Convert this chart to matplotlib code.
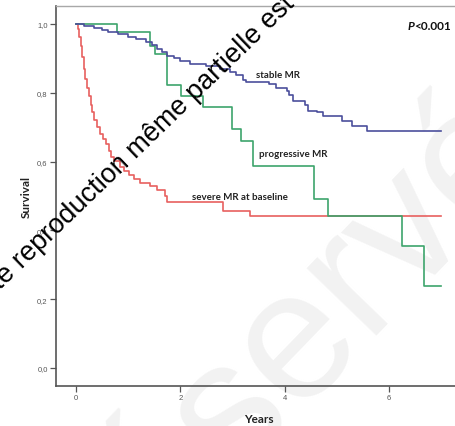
import matplotlib
matplotlib.use('Agg')

import matplotlib.pyplot as plt

# Kaplan-Meier steps (time in years, survival)
stable_t = [0, 0.15, 0.35, 0.5, 0.62, 0.8, 1.0, 1.15, 1.35, 1.45, 1.55, 1.65, 1.74, 1.88,
            2.0, 2.18, 2.5, 2.75, 2.95, 3.07, 3.2, 3.26, 3.70, 3.83, 4.05, 4.09, 4.15,
            4.39, 4.44, 4.61, 4.73, 5.09, 5.28, 5.58]
stable_s = [1.0, 0.995, 0.988, 0.982, 0.976, 0.970, 0.961, 0.955, 0.947, 0.938, 0.927, 0.917,
            0.908, 0.900, 0.893, 0.884, 0.877, 0.868, 0.860, 0.852, 0.838, 0.830, 0.824, 0.815,
            0.806, 0.792, 0.777, 0.763, 0.748, 0.743, 0.733, 0.719, 0.704, 0.690]

prog_t = [0, 0.78, 1.42, 1.51, 1.74, 2.02, 2.44, 2.98, 3.16, 3.40, 4.56, 4.83, 6.24, 6.66]
prog_s = [1.0, 0.975, 0.935, 0.913, 0.821, 0.791, 0.758, 0.695, 0.661, 0.588, 0.490, 0.441,
          0.356, 0.238]

severe_t = [0, 0.03, 0.06, 0.09, 0.12, 0.15, 0.18, 0.21, 0.25, 0.28, 0.31, 0.35, 0.40, 0.46,
            0.52, 0.58, 0.64, 0.68, 0.73, 0.84, 0.92, 1.02, 1.12, 1.22, 1.42, 1.55, 1.70,
            1.74, 2.82, 3.33]
severe_s = [1.0, 0.985, 0.962, 0.935, 0.905, 0.870, 0.840, 0.815, 0.790, 0.765, 0.745, 0.722,
            0.700, 0.680, 0.665, 0.650, 0.632, 0.612, 0.603, 0.585, 0.572, 0.560, 0.548, 0.538,
            0.530, 0.518, 0.500, 0.482, 0.457, 0.441]

t_end = 7.0
xticks = [0, 2, 4, 6]
yticks = [0.0, 0.2, 0.4, 0.6, 0.8, 1.0]
ytick_labels = ['0,0', '0,2', '0,4', '0,6', '0,8', '1,0']

W, H = 456, 427
fig = plt.figure(figsize=(W / 100, H / 100), dpi=100)
fig.patch.set_facecolor('white')

# faint background watermark, kept behind the axes
fig.text(330 / W, 1 - 372 / H, 'réservé', fontsize=132, color='#f2f2f2',
         family='Liberation Sans', rotation=46, rotation_mode='anchor',
         ha='center', va='baseline', zorder=-5)

ax = fig.add_axes([56 / W, 40 / H, 400 / W, 380 / H])
ax.patch.set_alpha(0)
ax.set_xlim(-0.383, 7.28)
ax.set_ylim(-0.0523, 1.052)


def km(ts, ss, color):
    ax.step(ts + [t_end], ss + [ss[-1]], where='post', color=color, lw=1.2, zorder=3)


km(severe_t, severe_s, '#e8605f')
km(prog_t, prog_s, '#3da46c')
km(stable_t, stable_s, '#4b4f9c')

ax.set_xticks(xticks)
ax.set_xticklabels([str(x) for x in xticks])
ax.set_yticks(yticks)
ax.set_yticklabels(ytick_labels)
ax.tick_params(axis='both', labelsize=5.5, labelcolor='#555555', color='#555555',
               length=4, width=0.9, pad=2)
for lab in ax.get_xticklabels() + ax.get_yticklabels():
    lab.set_family('Liberation Sans')

ax.spines['right'].set_visible(False)
ax.spines['top'].set_color('#a8a8a8')
ax.spines['top'].set_linewidth(1.0)
for s in ['left', 'bottom']:
    ax.spines[s].set_color('#555555')
    ax.spines[s].set_linewidth(1.2)

lbl = dict(family='Lato', fontweight='bold', color='#222222')
ax.set_ylabel('Survival', fontsize=8.5, **lbl)
ax.yaxis.set_label_coords(-0.06, 0.5)
ax.set_xlabel('Years', fontsize=8.5, **lbl)
ax.xaxis.set_label_coords(0.5075, -0.071)

ax.text(3.45, 0.852, 'stable MR', fontsize=7, ha='left', va='center', **lbl)
ax.text(3.51, 0.624, 'progressive MR', fontsize=7, ha='left', va='center', **lbl)
ax.text(2.22, 0.499, 'severe MR at baseline', fontsize=7, ha='left', va='center', **lbl)

# P<0.001 with italic P
p = fig.text(408 / W, 1 - 27 / H, 'P', fontsize=8.5, family='Lato', fontweight='bold',
             style='italic', ha='left', va='center', color='#111111')
fig.canvas.draw()
bb = p.get_window_extent()
fig.text((bb.x1 - 0.5) / W, 1 - 27 / H, '<0.001', fontsize=8.5, family='Lato',
         fontweight='bold', ha='left', va='center', color='#111111')

# diagonal copyright watermark
fig.text(165 / W, 1 - 122 / H, 'Toute reproduction même partielle est interdite',
         fontsize=19.5, family='Liberation Sans', rotation=44, rotation_mode='anchor',
         ha='center', va='center', color='black', zorder=10)

fig.savefig('out.png', dpi=100, facecolor='white')
